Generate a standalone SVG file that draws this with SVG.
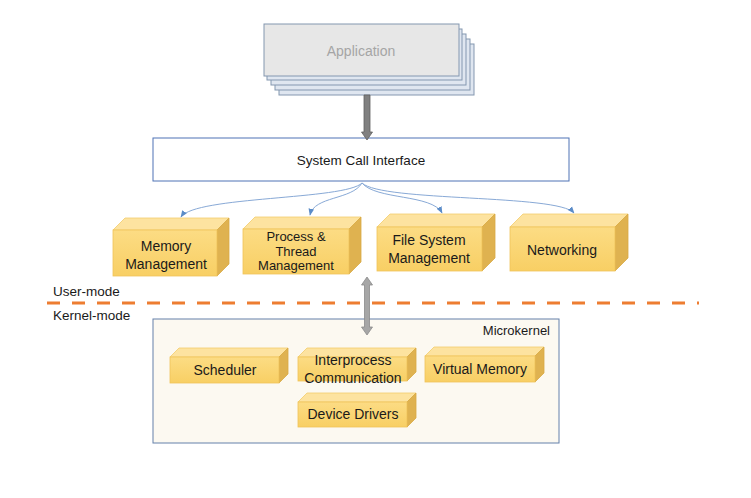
<svg xmlns="http://www.w3.org/2000/svg" width="751" height="498" viewBox="0 0 751 498">
<defs>
<style>
text{font-family:"Liberation Sans",Arial,sans-serif;fill:#1a1a1a;text-anchor:middle}
.front{fill:url(#gf);stroke:#f0c45a;stroke-width:0.8}
.top{fill:#fde3a0;stroke:#f3cd6c;stroke-width:0.8}
.side{fill:#dfb250;stroke:#d8a944;stroke-width:0.8}
.lbl{font-size:14px}
.sm{font-size:14px}
.curve{fill:none;stroke:#88a9d6;stroke-width:1}
.appl{fill:#dfe6f0;stroke:#8497b0;stroke-width:1}
</style>
<linearGradient id="gf" x1="0" y1="0" x2="0" y2="1">
<stop offset="0" stop-color="#fcdc84"/>
<stop offset="1" stop-color="#f8cf64"/>
</linearGradient>
<marker id="ah" viewBox="0 0 10 10" refX="9" refY="5" markerWidth="7" markerHeight="7" orient="auto-start-reverse" markerUnits="userSpaceOnUse">
<path d="M0,1 L10,5 L0,9 z" fill="#5b8cc8"/>
</marker>
</defs>
<rect width="751" height="498" fill="#ffffff"/>

<g id="application">
<rect class="appl" x="279" y="44" width="195" height="51"/>
<rect class="appl" x="275" y="39" width="195" height="51"/>
<rect class="appl" x="271" y="34" width="195" height="51"/>
<rect class="appl" x="267" y="29" width="195" height="51"/>
<rect x="264" y="24" width="195" height="52" fill="#e7e7e7" stroke="#8497b0" stroke-width="1"/>
<text x="361" y="56" style="font-size:14px;fill:#a5a5a5">Application</text>
</g>

<g id="sci">
<rect x="153" y="138" width="416" height="43" fill="#ffffff" stroke="#4f73b5" stroke-width="1"/>
<text x="361" y="165" style="font-size:13.5px">System Call Interface</text>
</g>

<g id="memory-management">
<polygon class="top" points="113,230 125,218 229,218 217,230"/>
<polygon class="side" points="217,230 229,218 229,264 217,276"/>
<rect class="front" x="113" y="230" width="104" height="46"/>
<text class="lbl" x="166" y="251">Memory</text>
<text class="lbl" x="166" y="269">Management</text>
</g>

<g id="process-thread">
<polygon class="top" points="243,229 255,217 361,217 349,229"/>
<polygon class="side" points="349,229 361,217 361,262 349,274"/>
<rect class="front" x="243" y="229" width="106" height="45"/>
<text x="296" y="241" style="font-size:13px">Process &amp;</text>
<text x="296" y="255.5" style="font-size:13px">Thread</text>
<text x="296" y="270" style="font-size:13px">Management</text>
</g>

<g id="file-system">
<polygon class="top" points="377,227 390,214 495,214 482,227"/>
<polygon class="side" points="482,227 495,214 495,258 482,271"/>
<rect class="front" x="377" y="227" width="105" height="44"/>
<text class="lbl" x="429" y="245">File System</text>
<text class="lbl" x="429" y="263">Management</text>
</g>

<g id="networking">
<polygon class="top" points="510,227 523,214 628,214 615,227"/>
<polygon class="side" points="615,227 628,214 628,258 615,271"/>
<rect class="front" x="510" y="227" width="105" height="44"/>
<text class="lbl" x="562" y="255">Networking</text>
</g>

<g id="mode-labels">
<text x="53" y="296" style="font-size:13.5px;text-anchor:start">User-mode</text>
<line x1="47" y1="303" x2="699" y2="303" stroke="#ed7d31" stroke-width="3" stroke-dasharray="13 12"/>
<text x="53" y="320" style="font-size:13.5px;text-anchor:start">Kernel-mode</text>
</g>

<g id="microkernel">
<rect x="153" y="319" width="406" height="124" fill="#fcf9f1" stroke="#6480aa" stroke-width="1"/>
<text x="550" y="335" style="font-size:13px;text-anchor:end">Microkernel</text>
</g>

<g id="scheduler">
<polygon class="top" points="170,357 179,348 288,348 279,357"/>
<polygon class="side" points="279,357 288,348 288,374 279,383"/>
<rect class="front" x="170" y="357" width="109" height="26"/>
<text class="sm" x="225" y="375">Scheduler</text>
</g>

<g id="ipc">
<polygon class="top" points="298,357 307,348 416,348 407,357"/>
<polygon class="side" points="407,357 416,348 416,372 407,381"/>
<rect class="front" x="298" y="357" width="109" height="24"/>
<text class="sm" x="353" y="365">Interprocess</text>
<text class="sm" x="353" y="383">Communication</text>
</g>

<g id="virtual-memory">
<polygon class="top" points="425,356 434,347 544,347 535,356"/>
<polygon class="side" points="535,356 544,347 544,373 535,382"/>
<rect class="front" x="425" y="356" width="110" height="26"/>
<text class="sm" x="480" y="374">Virtual Memory</text>
</g>

<g id="device-drivers">
<polygon class="top" points="298,402 307,393 416,393 407,402"/>
<polygon class="side" points="407,402 416,393 416,418 407,427"/>
<rect class="front" x="298" y="402" width="109" height="25"/>
<text class="sm" x="353" y="419">Device Drivers</text>
</g>

<g id="connectors">
<polygon points="364,95 370,95 370,132 372.5,132 367,140 361.5,132 364,132" fill="#808080" stroke="#5f5f5f" stroke-width="0.8"/>
<polygon points="367,277 372.5,285 369.5,285 369.5,327 372.5,327 367,335 361.5,327 364.5,327 364.5,285 361.5,285" fill="#a6a6a6" stroke="#8a8a8a" stroke-width="0.8"/>
<path class="curve" marker-end="url(#ah)" d="M362,183 C345,200 195,196 181,217"/>
<path class="curve" marker-end="url(#ah)" d="M362,183 C352,200 314,196 310,215"/>
<path class="curve" marker-end="url(#ah)" d="M362,183 C376,200 432,194 442,213"/>
<path class="curve" marker-end="url(#ah)" d="M362,183 C382,202 558,194 574,213"/>
</g>
</svg>
